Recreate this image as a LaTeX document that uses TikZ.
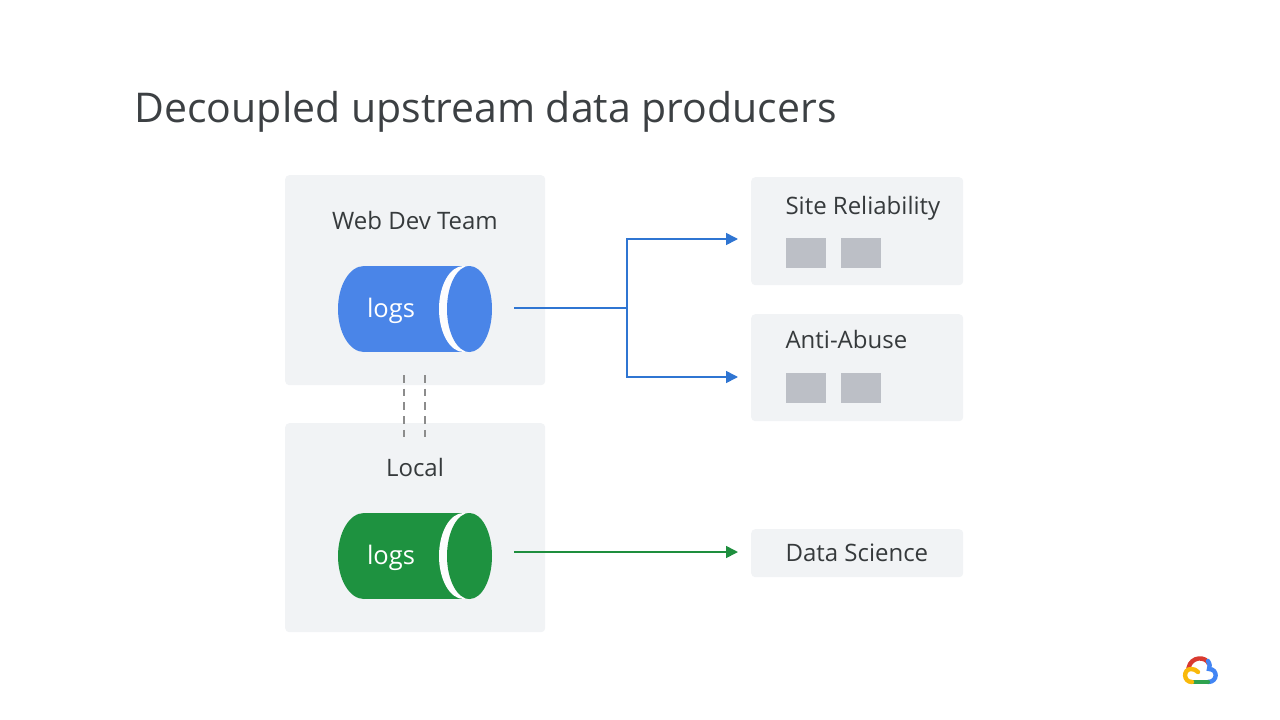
\documentclass[tikz,border=0pt]{standalone}
\usepackage{fontspec}
\setmainfont{Open Sans}
\usepackage{xcolor}
\usetikzlibrary{arrows.meta}
\usetikzlibrary{shapes.geometric,positioning}
\definecolor{panelGray}{HTML}{F1F3F5}
\definecolor{slotGray}{HTML}{BCBFC6}
\definecolor{inkGray}{HTML}{3C4043}
\definecolor{logsBlue}{HTML}{4A85E8}
\definecolor{logsGreen}{HTML}{1E9240}
\definecolor{lineBlue}{HTML}{2F75D2}
\definecolor{lineGreen}{HTML}{1E8E3E}
\definecolor{logoRed}{HTML}{D93A30}
\definecolor{logoYellow}{HTML}{F9B90A}
\definecolor{logoGreen}{HTML}{2FA34F}
\definecolor{logoBlue}{HTML}{4285F4}
\tikzset{>={Triangle[length=12pt,width=12pt]}}
\tikzset{panel/.style={fill=panelGray, rounded corners=4pt, inner sep=0, anchor=north west}}
\tikzset{slot/.style={fill=slotGray, inner sep=0, minimum width=40pt, minimum height=30pt, anchor=north west}}
\tikzset{logs-body/.style={inner sep=0, minimum width=105pt, minimum height=86pt}}
\tikzset{logs-end/.style={ellipse, minimum width=52pt, minimum height=86pt, inner sep=0}}
\tikzset{logs-ring/.style={ellipse, fill=white!85!panelGray, minimum width=49pt, minimum height=86pt, inner sep=0}}
\tikzset{logs-cap/.style={ellipse, minimum width=45pt, minimum height=86pt, inner sep=0}}
\tikzset{logs-label/.style={anchor=base, text=white, font=\fontsize{25.5}{30}\selectfont}}
\tikzset{panel-label/.style={anchor=base, text=inkGray!90!black, font=\fontsize{24}{28}\selectfont}}
\tikzset{link/.style={->, line width=1.6pt}}
\tikzset{bridge/.style={color=gray!90, line width=1.5pt, dash pattern=on 7.5pt off 6.2pt}}
\tikzset{logo-arc/.style={line width=4.4pt, line cap=round}}
\begin{document}
\begin{tikzpicture}[x=1pt,y=-1pt]
    \useasboundingbox (0,0) rectangle (1280,720);

    \node[anchor=base west, text=inkGray, font=\fontsize{41}{49}\selectfont] (title) at (131,122) {Decoupled upstream data producers};

    % left panels
    \node[panel, minimum width=260pt, minimum height=210pt] (webteam) at (285,175) {};
    \node[panel, minimum width=260pt, minimum height=209pt] (local) at (285,423) {};
    \node[panel-label] (webteamlabel) at (415,229) {Web Dev Team};
    \node[panel-label] (locallabel) at (415,476) {Local};

    % logs
    \node[logs-body, fill=logsBlue] (weblogs) at (415.5,309) {};
    \node[logs-end, fill=logsBlue] (weblogsend) at (364,309) {};
    \node[logs-ring] (weblogsring) at (463.5,309) {};
    \node[logs-cap, fill=logsBlue] (weblogscap) at (469.5,309) {};
    \node[logs-label] (weblogslabel) at (391,317) {logs};
    \node[logs-body, fill=logsGreen] (locallogs) at (415.5,556) {};
    \node[logs-end, fill=logsGreen] (locallogsend) at (364,556) {};
    \node[logs-ring] (locallogsring) at (463.5,556) {};
    \node[logs-cap, fill=logsGreen] (locallogscap) at (469.5,556) {};
    \node[logs-label] (locallogslabel) at (391,564) {logs};

    % right panels
    \node[panel, minimum width=212pt, minimum height=108pt] (reliability) at (751,177) {};
    \node[panel, minimum width=212pt, minimum height=107pt] (abuse) at (751,314) {};
    \node[panel, minimum width=212pt, minimum height=48pt] (science) at (751,529) {};
    \node[panel-label, anchor=base west] (reliabilitylabel) at (782,214) {Site Reliability};
    \node[panel-label, anchor=base west] (abuselabel) at (782,348) {Anti-Abuse};
    \node[panel-label, anchor=base west] (sciencelabel) at (782,561) {Data Science};
    \node[slot] (slot1) at (786,238) {};
    \node[slot] (slot2) at (841,238) {};
    \node[slot] (slot3) at (786,373) {};
    \node[slot] (slot4) at (841,373) {};

    % connectors
    \coordinate (webout) at (514,308);
    \coordinate (localout) at (514,552);
    \coordinate (fork) at (627,308);
    \coordinate (reliabilityin) at (738,239);
    \coordinate (abusein) at (738,377);
    \coordinate (sciencein) at (738,552);
    \coordinate (bridgeA1) at (404,375);
    \coordinate (bridgeA2) at (404,439);
    \coordinate (bridgeB1) at (425,375);
    \coordinate (bridgeB2) at (425,439);
    \draw[link, lineBlue] (webout) -- (fork) |- (reliabilityin);
    \draw[link, lineBlue] (fork) |- (abusein);
    \draw[link, lineGreen] (localout) -- (sciencein);
    \draw[bridge] (bridgeA1) -- (bridgeA2);
    \draw[bridge] (bridgeB1) -- (bridgeB2);

    % logo
    \draw[logo-arc, color=logoRed] (1188.5,668) .. controls (1191,656) and (1206,656) .. (1209,664);
    \draw[logo-arc, color=logoBlue] (1208,661) .. controls (1210,664) and (1210,667) .. (1209,669) .. controls (1218,669) and (1218,682) .. (1208,682);
    \draw[logo-arc, color=logoGreen] (1208,682) -- (1192,682);
    \draw[logo-arc, color=logoYellow] (1192,682) .. controls (1183,682) and (1183,669) .. (1191,669) .. controls (1194,669) and (1196,670) .. (1198,672);
\end{tikzpicture}
\end{document}
